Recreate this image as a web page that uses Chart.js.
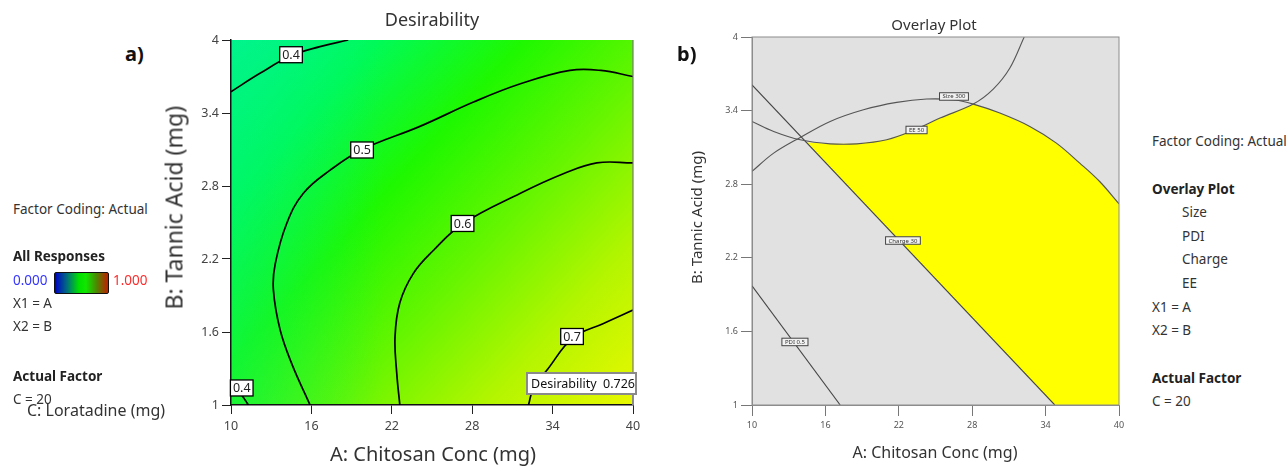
<!DOCTYPE html>
<html>
<head>
<meta charset="utf-8">
<script src="https://cdn.jsdelivr.net/npm/chart.js@4.4.1/dist/chart.umd.min.js"></script>
<style>
html,body{margin:0;padding:0;}
body{width:1288px;height:468px;background:#fff;position:relative;overflow:hidden;font-family:"Noto Sans",sans-serif;color:#333;}
.t{position:absolute;white-space:nowrap;font-size:13.5px;line-height:1;}
.b{font-weight:bold;color:#222;}
.c{text-align:center;}
.rot{transform:rotate(-90deg);}
canvas{position:absolute;top:0;}
.cbar{position:absolute;left:54px;top:272px;width:53px;height:20px;border:1px solid #111;border-radius:2px;
background:linear-gradient(to right,#0000c8 0%,#006a80 22%,#00e000 45%,#10e800 58%,#4a8a00 78%,#c01e00 100%);}
</style>
</head>
<body>
<canvas id="ca" width="500" height="468" style="left:150px"></canvas>
<canvas id="cb" width="460" height="468" style="left:680px"></canvas>

<div class="t b" style="left:125px;top:44px;font-size:20px;color:#111">a)</div>
<div class="t" style="left:13px;top:203px">Factor Coding: Actual</div>
<div class="t b" style="left:13px;top:250px">All Responses</div>
<div class="t" style="left:13px;top:274px;color:#3434ff">0.000</div>
<div class="cbar"></div>
<div class="t" style="left:113px;top:274px;color:#ff2c2c">1.000</div>
<div class="t" style="left:13px;top:297px">X1 = A</div>
<div class="t" style="left:13px;top:320px">X2 = B</div>
<div class="t b" style="left:13px;top:370px">Actual Factor</div>
<div class="t" style="left:13px;top:393px">C = 20</div>
<div class="t" style="left:27px;top:402px;font-size:16px">C: Loratadine (mg)</div>

<div class="t c" style="left:332px;width:200px;top:10px;font-size:18px">Desirability</div>
<div class="t c" style="left:330px;width:200px;top:444px;font-size:20px">A: Chitosan Conc (mg)</div>
<div class="t c rot" style="left:74px;top:198px;width:200px;height:23px;font-size:23px">B: Tannic Acid (mg)</div>

<div class="t b" style="left:677px;top:44px;font-size:20px;color:#111">b)</div>
<div class="t c" style="left:834px;width:200px;top:17px;font-size:15px">Overlay Plot</div>
<div class="t c" style="left:835px;width:200px;top:444px;font-size:16px">A: Chitosan Conc (mg)</div>
<div class="t c rot" style="left:596px;top:210px;width:200px;height:15px;font-size:15px">B: Tannic Acid (mg)</div>

<div class="t" style="left:1152px;top:135px">Factor Coding: Actual</div>
<div class="t b" style="left:1152px;top:183px">Overlay Plot</div>
<div class="t" style="left:1182px;top:206px">Size</div>
<div class="t" style="left:1182px;top:230px">PDI</div>
<div class="t" style="left:1182px;top:253px">Charge</div>
<div class="t" style="left:1182px;top:277px">EE</div>
<div class="t" style="left:1152px;top:301px">X1 = A</div>
<div class="t" style="left:1152px;top:324px">X2 = B</div>
<div class="t b" style="left:1152px;top:372px">Actual Factor</div>
<div class="t" style="left:1152px;top:395px">C = 20</div>

<script>
// ---------- axes ----------
const xTickValues = [10, 16, 22, 28, 34, 40];
const yTickValues = [1, 1.6, 2.2, 2.8, 3.4, 4];
const xTickLabels = ['10', '16', '22', '28', '34', '40'];
const yTickLabels = ['1', '1.6', '2.2', '2.8', '3.4', '4'];

// ---------- panel a: desirability contours, points are [A, B] ----------
const contour04Upper = [[10,3.575],[12.16,3.726],[14.48,3.87],[16.64,3.945],[18.75,4.0]];
const contour04Lower = [[10,1.17],[10.8,1.08],[11.3,1.0]];
const contour05 = [[40,3.70],[37.6,3.75],[35.3,3.75],[31.6,3.64],[28.1,3.49],[24.1,3.29],[19.8,3.10],[17.4,2.93],[15.4,2.74],[14.15,2.49],[13.3,2.16],[13.16,1.95],[13.66,1.62],[14.53,1.34],[15.9,1.0]];
const contour06 = [[40,2.99],[37.3,2.99],[34.8,2.90],[31.6,2.74],[27.3,2.49],[25.1,2.27],[23.6,2.08],[22.6,1.84],[22.24,1.56],[22.37,1.26],[22.6,1.0]];
const contour07 = [[40,1.78],[37.8,1.67],[35.5,1.55],[33.6,1.29],[32.6,1.15],[32.2,1.0]];
const contourLevels = ['0.4', '0.4', '0.5', '0.6', '0.7'];
const contourLabelAt = [[14.48,3.879],[10.8,1.14],[19.78,3.096],[27.28,2.492],[35.45,1.563]];
const optimumPoint = [40, 1];
const optimumLabel = 'Desirability  0.726';

// ---------- panel b: overlay plot ----------
const sizeCurve = [[10,2.904],[11.77,3.053],[13.94,3.181],[16.39,3.312],[19.11,3.407],[21.83,3.467],[24.28,3.494],[26.45,3.488],[28.09,3.453],[30.26,3.380],[32.71,3.271],[34.88,3.135],[36.79,2.972],[38.42,2.822],[40,2.640]];
const eeCurve = [[10,3.312],[11.77,3.230],[13.94,3.162],[16.39,3.129],[18.57,3.129],[21.01,3.162],[23.19,3.238],[25.37,3.339],[28.09,3.453],[29.72,3.575],[31.08,3.747],[32.25,4.0]];
const chargeLine = [[10,3.61],[34.75,1.0]];
const pdiLine = [[10,1.971],[17.21,1.0]];
const feasibleRegion = [[14.5,3.14],[34.75,1.0],[40,1.0],[40,2.640],[38.42,2.822],[36.79,2.972],[34.88,3.135],[32.71,3.271],[30.26,3.380],[28.09,3.453],[25.37,3.339],[23.19,3.238],[21.01,3.162],[18.57,3.129],[16.39,3.129],[14.5,3.14]];
const overlayLabels = ['Size 300', 'EE 50', 'Charge 30', 'PDI 0.5'];
const overlayLabelAt = [[26.51,3.515],[23.45,3.242],[22.34,2.341],[13.51,1.514]];

Chart.defaults.font.family = '"Noto Sans", sans-serif';
const pts = arr => arr.map(([x, y]) => ({x, y}));

function axes(opts) {
  return {
    x: {
      type: 'linear', min: 10, max: 40,
      afterBuildTicks: s => { s.ticks = xTickValues.map(v => ({value: v})); },
      afterFit: s => { s.height = 63; },
      ticks: {autoSkip: false, maxRotation: 0, padding: opts.pad, color: opts.tickColor,
        font: {size: opts.fs}, callback: (v, i) => xTickLabels[i]},
      grid: {display: true, drawOnChartArea: false, drawTicks: true, tickLength: opts.tl, color: opts.markColor, lineWidth: 1},
      border: {display: true, color: opts.borderColor, width: opts.bw}
    },
    y: {
      type: 'linear', min: 1, max: 4,
      afterBuildTicks: s => { s.ticks = yTickValues.map(v => ({value: v})); },
      afterFit: s => { s.width = opts.yw; },
      ticks: {autoSkip: false, padding: 3, color: opts.tickColor,
        font: {size: opts.fs}, callback: (v, i) => yTickLabels[i]},
      grid: {display: true, drawOnChartArea: false, drawTicks: true, tickLength: opts.tl, color: opts.markColor, lineWidth: 1},
      border: {display: true, color: opts.borderColor, width: opts.bw}
    }
  };
}

const lineDs = (arr, color, width, tension) => ({
  data: pts(arr), showLine: true, borderColor: color, borderWidth: width,
  pointRadius: 0, pointHoverRadius: 0, tension: tension, fill: false, order: 1
});

// ---------- panel a ----------
const panelAPlugin = {
  id: 'panelA',
  beforeDraw(chart) {
    const {ctx, chartArea: a} = chart;
    ctx.save();
    const g = ctx.createLinearGradient(a.left, a.top, a.right, a.bottom);
    g.addColorStop(0, '#00f59c');
    g.addColorStop(0.2, '#00fa58');
    g.addColorStop(0.4, '#1ef800');
    g.addColorStop(0.6, '#66f500');
    g.addColorStop(0.8, '#b4f500');
    g.addColorStop(1, '#e8f800');
    ctx.fillStyle = g;
    ctx.fillRect(a.left, a.top, a.width, a.height);
    const h = ctx.createLinearGradient(a.left, 0, a.left + a.width * 0.38, 0);
    h.addColorStop(0, 'rgba(0,242,120,0.45)');
    h.addColorStop(1, 'rgba(0,242,120,0)');
    ctx.fillStyle = h;
    ctx.fillRect(a.left, a.top, a.width, a.height);
    ctx.restore();
  },
  afterDatasetsDraw(chart) {
    const {ctx, chartArea: a, scales: {x, y}} = chart;
    ctx.save();
    ctx.strokeStyle = '#777';
    ctx.lineWidth = 1.2;
    ctx.beginPath();
    ctx.moveTo(a.right, a.top); ctx.lineTo(a.right, a.bottom);
    ctx.stroke();
    ctx.font = '12.5px "Noto Sans"';
    ctx.textAlign = 'center';
    ctx.textBaseline = 'middle';
    contourLevels.forEach((lab, i) => {
      const px = x.getPixelForValue(contourLabelAt[i][0]);
      const py = y.getPixelForValue(contourLabelAt[i][1]);
      const w = ctx.measureText(lab).width + 5, hh = 16;
      ctx.fillStyle = '#fff';
      ctx.fillRect(px - w / 2, py - hh / 2, w, hh);
      ctx.strokeStyle = '#000';
      ctx.lineWidth = 1.3;
      ctx.strokeRect(px - w / 2, py - hh / 2, w, hh);
      ctx.fillStyle = '#222';
      ctx.fillText(lab, px, py + 0.5);
    });
    ctx.restore();
  },
  afterDraw(chart) {
    const {ctx, scales: {x, y}} = chart;
    const px = x.getPixelForValue(optimumPoint[0]);
    const py = y.getPixelForValue(optimumPoint[1]);
    ctx.save();
    ctx.strokeStyle = '#8a8a8a';
    ctx.lineWidth = 2;
    ctx.beginPath();
    ctx.moveTo(px, py); ctx.lineTo(px, py - 11);
    ctx.stroke();
    const l = px - 106, t = py - 32, w = 109, hh = 21;
    ctx.fillStyle = '#fff';
    ctx.fillRect(l, t, w, hh);
    ctx.strokeRect(l, t, w, hh);
    ctx.fillStyle = '#111';
    ctx.font = '12.5px "Noto Sans"';
    ctx.textAlign = 'left';
    ctx.textBaseline = 'middle';
    ctx.fillText(optimumLabel, l + 4, t + hh / 2 + 0.5);
    ctx.restore();
  }
};

new Chart(document.getElementById('ca'), {
  type: 'scatter',
  data: {datasets: [
    lineDs(contour04Upper, '#000', 1.7, 0.4),
    lineDs(contour04Lower, '#000', 1.7, 0.4),
    lineDs(contour05, '#000', 1.7, 0.4),
    lineDs(contour06, '#000', 1.7, 0.4),
    lineDs(contour07, '#000', 1.7, 0.4)
  ]},
  options: {
    responsive: false, animation: false, devicePixelRatio: 1,
    layout: {padding: {left: 0, right: 17, top: 40, bottom: 0}},
    plugins: {legend: {display: false}, tooltip: {enabled: false}, title: {display: false}},
    scales: axes({pad: 5, tickColor: '#444', fs: 12.5, tl: 9, markColor: '#222', borderColor: '#111', bw: 1.5, yw: 81})
  },
  plugins: [panelAPlugin]
});

// ---------- panel b ----------
const panelBPlugin = {
  id: 'panelB',
  beforeDraw(chart) {
    const {ctx, chartArea: a} = chart;
    ctx.save();
    ctx.fillStyle = '#e1e1e1';
    ctx.fillRect(a.left, a.top, a.width, a.height);
    ctx.restore();
  },
  afterDatasetsDraw(chart) {
    const {ctx, chartArea: a, scales: {x, y}} = chart;
    ctx.save();
    ctx.strokeStyle = '#8c8c8c';
    ctx.lineWidth = 1;
    ctx.strokeRect(a.left, a.top, a.width, a.height);
    ctx.font = '6px "Noto Sans"';
    ctx.textAlign = 'center';
    ctx.textBaseline = 'middle';
    overlayLabels.forEach((lab, i) => {
      const px = x.getPixelForValue(overlayLabelAt[i][0]);
      const py = y.getPixelForValue(overlayLabelAt[i][1]);
      const w = ctx.measureText(lab).width + 6, hh = 7.5;
      ctx.fillStyle = '#f2f2f2';
      ctx.fillRect(px - w / 2, py - hh / 2, w, hh);
      ctx.strokeStyle = '#444';
      ctx.lineWidth = 1;
      ctx.strokeRect(px - w / 2, py - hh / 2, w, hh);
      ctx.fillStyle = '#333';
      ctx.fillText(lab, px, py + 0.3);
    });
    ctx.restore();
  }
};

new Chart(document.getElementById('cb'), {
  type: 'scatter',
  data: {datasets: [
    {data: pts(feasibleRegion), showLine: true, fill: 'shape', backgroundColor: '#ffff00',
     borderColor: 'rgba(0,0,0,0)', borderWidth: 0, pointRadius: 0, pointHoverRadius: 0, tension: 0, order: 5},
    lineDs(sizeCurve, '#555', 1.1, 0.35),
    lineDs(eeCurve, '#555', 1.1, 0.35),
    lineDs(chargeLine, '#444', 1.1, 0),
    lineDs(pdiLine, '#444', 1.1, 0)
  ]},
  options: {
    responsive: false, animation: false, devicePixelRatio: 1,
    layout: {padding: {left: 0, right: 21, top: 37, bottom: 0}},
    plugins: {legend: {display: false}, tooltip: {enabled: false}, title: {display: false}},
    scales: axes({pad: 4, tickColor: '#555', fs: 9, tl: 11, markColor: '#777', borderColor: '#8c8c8c', bw: 1, yw: 72})
  },
  plugins: [panelBPlugin]
});
</script>
</body>
</html>
